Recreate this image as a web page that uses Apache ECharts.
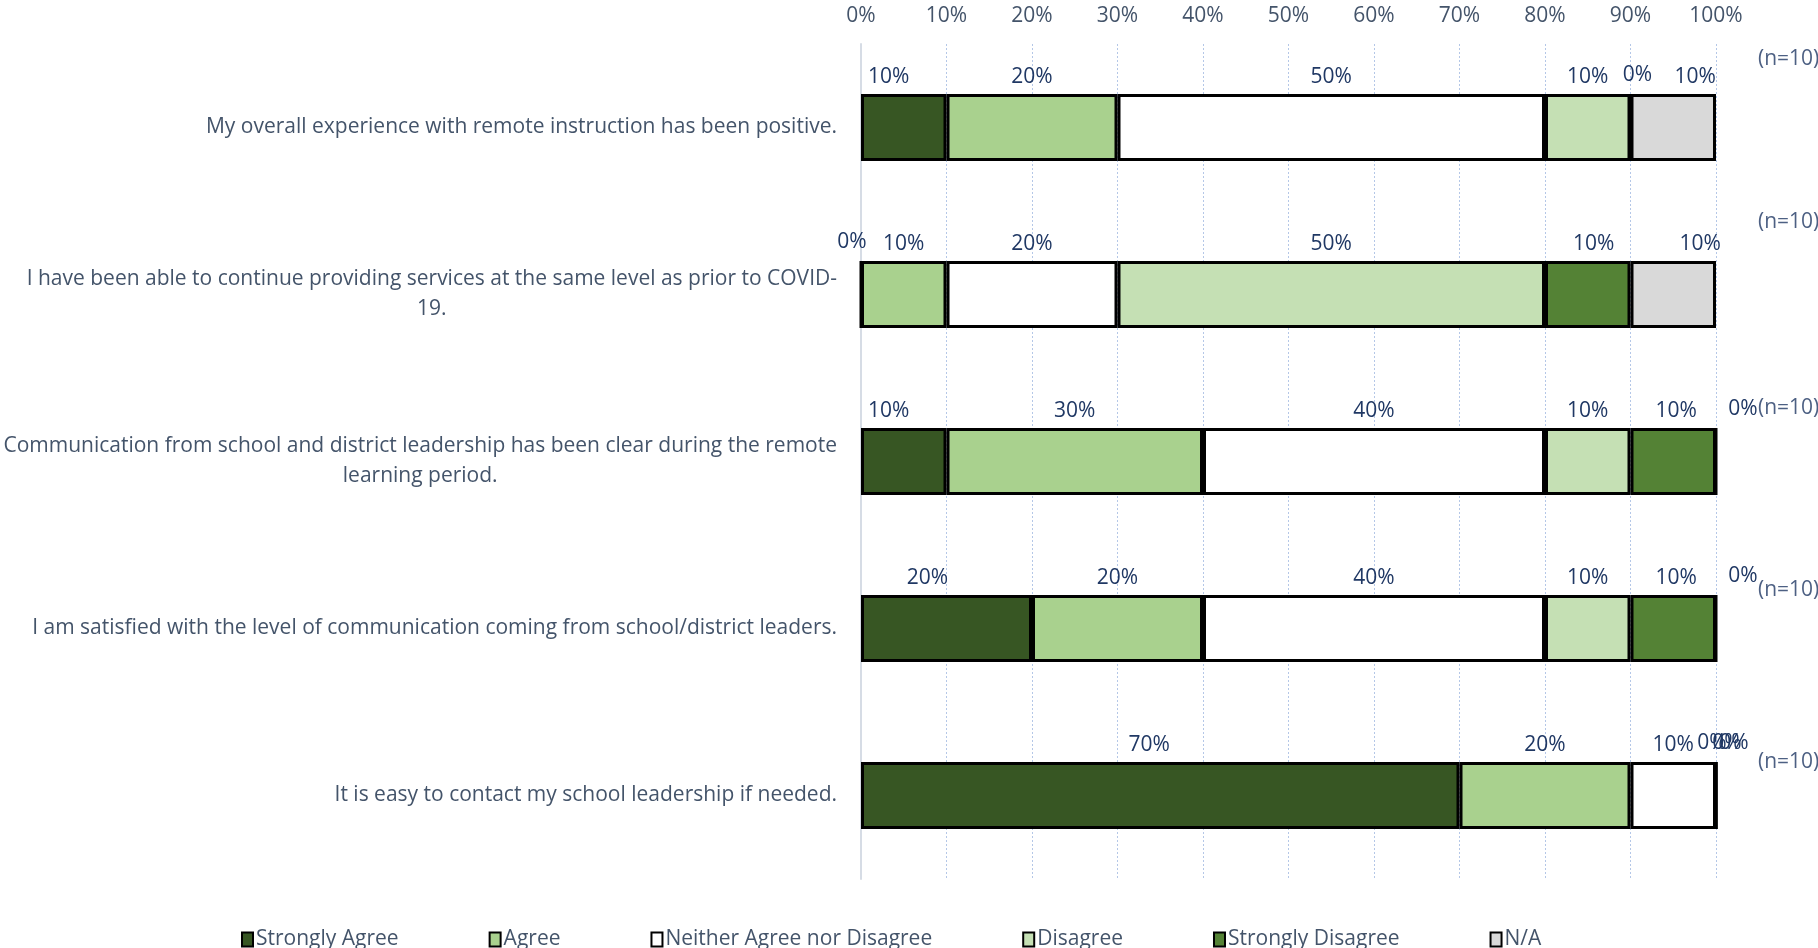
<!DOCTYPE html>
<html>
<head>
<meta charset="utf-8">
<script src="https://cdn.jsdelivr.net/npm/echarts@6/dist/echarts.min.js"></script>
<style>
html,body{margin:0;padding:0;background:#fff;}
#chart{width:1818px;height:948px;}
</style>
</head>
<body>
<div id="chart"></div>
<script>
const categories = [
  'My overall experience with remote instruction has been positive.',
  'I have been able to continue providing services at the same level as prior to COVID-\n19.',
  'Communication from school and district leadership has been clear during the remote\nlearning period.',
  'I am satisfied with the level of communication coming from school/district leaders.',
  'It is easy to contact my school leadership if needed.'
];
const seriesNames = ['Strongly Agree', 'Agree', 'Neither Agree nor Disagree', 'Disagree', 'Strongly Disagree', 'N/A'];
const strongAgree    = [10, 0, 10, 20, 70];
const agree          = [20, 10, 30, 20, 20];
const neither        = [50, 20, 40, 40, 10];
const disagree       = [10, 50, 10, 10, 0];
const strongDisagree = [0, 10, 10, 10, 0];
const notApplicable  = [10, 10, 0, 0, 0];
const nLabels = ['(n=10)', '(n=10)', '(n=10)', '(n=10)', '(n=10)'];
const xTicks = [0, 10, 20, 30, 40, 50, 60, 70, 80, 90, 100];

// layout / style (not data)
const colors = ['#375623', '#A9D18E', '#FFFFFF', '#C5E0B4', '#548235', '#D9D9D9'];
const labelDx = [
  [-15, -9, -15, -19, -11],
  [0, 0, 0, 0, 0],
  [0, 0, 0, 0, 0],
  [0, 0, 0, 0, -4],
  [7, 6, 3, 3, 11],
  [22, 27, 27, 27, 18]
];
const nLabelDy = [-68, -72, -53, -38, -33];

const FONT = '"Open Sans", sans-serif';
const FS = 21;
const valueSeries = [strongAgree, agree, neither, disagree, strongDisagree, notApplicable];

const chart = echarts.init(document.getElementById('chart'), null, {renderer: 'canvas'});

const series = valueSeries.map((arr, s) => ({
  name: seriesNames[s],
  type: 'bar',
  stack: 'total',
  barWidth: '40%',
  itemStyle: {color: colors[s], borderColor: '#000000', borderWidth: 3},
  label: {
    show: true,
    position: 'top',
    distance: 7,
    formatter: '{c}%',
    color: '#203864',
    fontSize: FS,
    fontFamily: FONT
  },
  emphasis: {disabled: true},
  data: arr.map((v, i) => ({value: v, label: {offset: [labelDx[s][i], 0]}}))
}));

series.push({
  name: 'n',
  type: 'scatter',
  symbolSize: 0,
  silent: true,
  data: nLabels.map((t, i) => ({
    value: [xTicks[xTicks.length - 1], i],
    label: {offset: [0, nLabelDy[i]]}
  })),
  label: {
    show: true,
    position: 'right',
    distance: 42,
    formatter: p => nLabels[p.dataIndex],
    color: '#203864',
    fontSize: FS,
    fontFamily: FONT
  }
});

chart.setOption({
  animation: false,
  backgroundColor: '#ffffff',
  textStyle: {fontFamily: FONT},
  grid: {left: 861, right: 102, top: 44, bottom: 69, containLabel: false},
  legend: {
    data: seriesNames,
    top: 924,
    left: 236,
    itemGap: 90,
    itemWidth: 11,
    itemHeight: 14,
    icon: 'rect',
    itemStyle: {borderColor: '#000000', borderWidth: 2},
    textStyle: {fontSize: FS, color: '#44546A', fontFamily: FONT, padding: [0, 0, 0, -2]},
    selectedMode: false
  },
  xAxis: {
    type: 'value',
    position: 'top',
    min: xTicks[0],
    max: xTicks[xTicks.length - 1],
    interval: 10,
    axisLine: {show: false},
    axisTick: {show: false},
    axisLabel: {formatter: '{value}%', color: '#44546A', fontSize: FS, fontFamily: FONT, margin: 17},
    splitLine: {show: true, lineStyle: {color: '#B4C7E7', width: 1, type: [2, 2]}}
  },
  yAxis: {
    type: 'category',
    data: categories,
    inverse: true,
    axisTick: {show: false},
    axisLine: {show: true, lineStyle: {color: '#D6DCE5', width: 2}},
    axisLabel: {
      interval: 0,
      margin: 24,
      color: '#44546A',
      fontSize: FS,
      fontFamily: FONT,
      formatter: v => v.split('\n').map(l => '{c|' + l + '}').join('\n'),
      rich: {c: {align: 'center', fontSize: FS, lineHeight: 30, color: '#44546A', fontFamily: FONT}}
    }
  },
  series: series
});
</script>
</body>
</html>
